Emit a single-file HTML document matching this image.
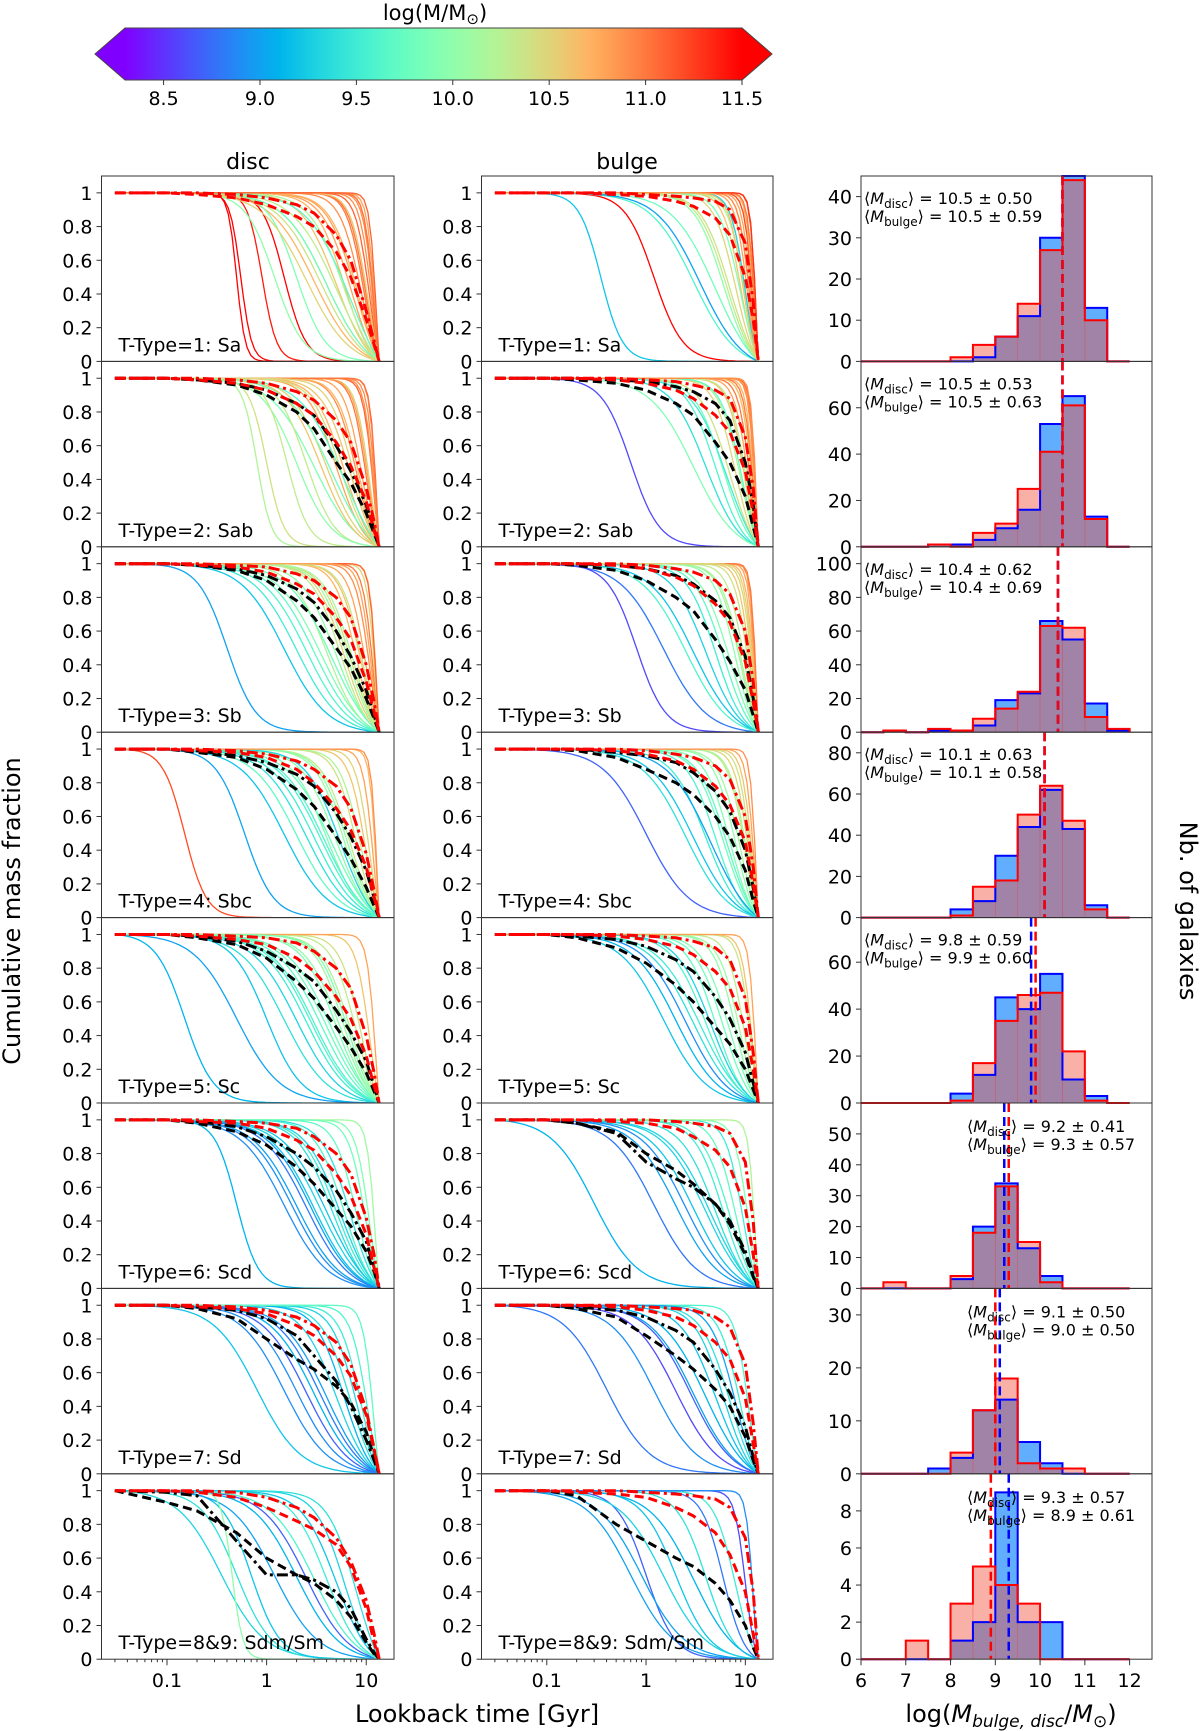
<!DOCTYPE html>
<html><head><meta charset="utf-8"><style>
html,body{margin:0;padding:0;background:#fff;}
svg{display:block;font-family:"DejaVu Sans","Liberation Sans",sans-serif;}
</style></head><body>
<svg id="fig" width="1200" height="1731" viewBox="0 0 1200 1731" xmlns="http://www.w3.org/2000/svg">
<defs><linearGradient id="cbgrad" x1="0" x2="1" y1="0" y2="0"></linearGradient></defs>
<g id="colorbar"></g>
<text x="435" y="20" font-size="21" text-anchor="middle">log(M/M<tspan font-size="15" baseline-shift="-4">⊙</tspan>)</text>
<text x="248" y="169" font-size="22" text-anchor="middle">disc</text>
<text x="627" y="169" font-size="22" text-anchor="middle">bulge</text>
<text x="477" y="1722" font-size="24" text-anchor="middle">Lookback time [Gyr]</text>
<text x="1011" y="1722" font-size="24" text-anchor="middle">log(<tspan font-style="italic">M</tspan><tspan font-style="italic" font-size="17" baseline-shift="-5">bulge, disc</tspan>/<tspan font-style="italic">M</tspan><tspan font-size="17" baseline-shift="-5">⊙</tspan>)</text>
<text transform="translate(20,911) rotate(-90)" font-size="24" text-anchor="middle">Cumulative mass fraction</text>
<text transform="translate(1180,911) rotate(90)" font-size="24" text-anchor="middle">Nb. of galaxies</text>
<g id="panels"></g>
</svg>
<script>
// ---------- data ----------
const typeLabels = ["T-Type=1: Sa","T-Type=2: Sab","T-Type=3: Sb","T-Type=4: Sbc","T-Type=5: Sc","T-Type=6: Scd","T-Type=7: Sd","T-Type=8&9: Sdm/Sm"];
const cbTicks = [8.5,9.0,9.5,10.0,10.5,11.0,11.5];
const timeTicks = [0.1,1,10];
const fracTicks = [0,0.2,0.4,0.6,0.8,1];
const fracTickLabels = ["0","0.2","0.4","0.6","0.8","1"];
const histXTicks = [6,7,8,9,10,11,12];
const binEdges = [6,6.5,7,7.5,8,8.5,9,9.5,10,10.5,11,11.5,12];
const histYMax = [45,80,110,90,79,60,35,10];
const histYTicks = [[0,10,20,30,40],[0,20,40,60],[0,20,40,60,80,100],[0,20,40,60,80],[0,20,40,60],[0,10,20,30,40,50],[0,10,20,30],[0,2,4,6,8]];
const histDisc = [
 [0,0,0,0,0,1,6,11,30,45,13,0],
 [0,0,0,1,1,3,8,16,53,65,13,0],
 [0,1,0,1,1,4,19,23,66,55,17,1],
 [0,0,0,0,4,8,30,44,62,43,6,0],
 [0,0,0,0,4,12,45,40,55,10,3,0],
 [0,0,0,0,3,20,34,13,4,0,0,0],
 [0,0,0,1,3,12,14,6,2,0,0,0],
 [0,0,0,0,1,2,9,2,2,0,0,0]];
const histBulge = [
 [0,0,0,0,1,4,6,14,27,44,10,0],
 [0,0,0,1,0,6,10,25,41,61,12,0],
 [0,1,0,2,1,8,14,24,63,62,9,2],
 [0,0,0,0,1,15,18,50,64,47,4,0],
 [0,0,0,0,1,17,35,46,47,22,1,0],
 [0,2,0,0,4,18,33,15,2,0,0,0],
 [0,0,0,0,4,12,18,2,1,1,0,0],
 [0,0,1,0,3,5,4,3,0,0,0,0]];
const discMean = [10.5,10.5,10.4,10.1,9.8,9.2,9.1,9.3];
const discStd = ["0.50","0.53","0.62","0.63","0.59","0.41","0.50","0.57"];
const bulgeMean = [10.5,10.5,10.4,10.1,9.9,9.3,9.0,8.9];
const bulgeStd = ["0.59","0.63","0.69","0.58","0.60","0.57","0.50","0.61"];

// individual galaxy curves: mass, half-mass lookback time, steepness
const discMass = [
 [11.5,11.5,11.4,11.5,10.8,10.9,11.0,10.7,10.6,11.1,10.5,10.9,10.8,11.0,10.7,9.9,10.0,9.8,10.2,10.4,10.6,10.9,11.2,10.8,10.7,11.0,10.3,9.7,10.5,11.1],
 [10.8,10.5,10.9,11.0,10.7,10.2,10.4,9.9,10.6,11.1,10.8,10.3,9.8,10.5,10.9,10.6,11.2,10.0,10.7,10.4,9.7,10.8,10.9,11.0,10.5,10.3],
 [10.5,10.7,10.2,9.9,10.4,10.8,9.6,9.0,9.2,10.0,10.6,11.0,10.3,9.8,10.9,10.1,10.5,9.7,10.7,11.1,10.4,10.2,9.5,10.8],
 [10.0,9.6,10.3,9.4,10.6,9.8,10.1,9.2,10.8,9.5,10.4,9.9,10.2,9.0,10.7,9.7,10.5,11.2,9.3,10.0,9.6,10.9],
 [9.8,9.5,10.0,9.3,10.2,9.6,9.9,9.1,10.4,9.7,10.1,9.4,10.6,9.8,9.2,10.3,9.6,10.8,9.0,9.9],
 [9.2,9.0,9.4,8.9,9.6,9.3,9.1,9.5,8.8,9.7,9.2,9.9,9.0,9.4,10.1,9.3,8.9,9.8],
 [9.1,8.9,9.3,8.7,9.4,9.0,9.2,9.5,8.8,9.6,9.1,9.3,8.9,9.7],
 [9.3,9.4,9.2,9.1,9.5,8.7,9.3,9.6,9.0,10.0,9.4,9.2]];
const discT50 = [
 [0.5,0.55,0.9,1.5,8,9,10,6,5,11,4,12,7,9.5,3,2,1.2,4,6,3.5,10.5,11.5,12,12.5,8.5,12,5,7,2.5,12.8],
 [5,4,8,10,6,0.8,1.0,3,7,12,9,2.5,4.5,11,12.5,3.5,13,2,8.5,5.5,6,10.5,12,12.8,7.5,1.6],
 [6,8,4,3.5,7,10,2.5,0.4,1.5,5,9,12,5.5,4.5,11,6.5,12.5,3,13,12.8,9.5,7.5,2,11.5],
 [5,3.5,7,2.5,10,4.5,6,1.5,12,3,8,4,9,0.6,12.8,2,11,0.15,5.5,6.5,3.8,13],
 [4,2.5,5.5,2,7,3,5,0.15,9,3.5,6,1.5,11,4.5,1.0,8,2.8,12.5,0.5,6.5],
 [3,2,4.5,1.5,6,3.5,0.5,5,2.5,8,4,11,2.8,7,12.5,5.5,1.8,10],
 [3,1.5,5,2.5,7,4,0.8,9,3.5,10.5,6,8,2,12],
 [0.35,0.5,0.7,2,4,2.5,6,3,1.2,0.45,8,5]];
const discK = [
 [10,8,6,4,3,4,5,3,2.5,6,2,8,3,5,2,3,3,2,2.5,2,5,7,9,10,3,9,2,2,2,12],
 [3,2.5,4,6,3,6,5,2,3,8,5,3,2,6,10,2.5,12,2.5,4,3,2,6,9,12,3.5,4],
 [3,4,2.5,2,3,5,2,3,2,2.5,4,8,3,2,6,3,10,2,12,12,4,3,2,7],
 [2.5,2,3,2,5,2,3,2,8,2,4,2.5,4,3,12,2,6,4,2.5,3,2,14],
 [2,2,2.5,2,3,2,2.5,3,4,2,3,2,6,2,2.5,3.5,2,10,2,3],
 [2,2,2.5,2,3,2,4,2.5,2,4,2,6,2,3,10,2.5,2,5],
 [2,2,2.5,2,3,2,2,4,2,5,3,3.5,2,8],
 [2,2.5,3,2,2.5,2,3,2,2,8,3,2.5]];
const bulgeMass = [
 [10.8,10.9,11.0,10.7,11.1,10.6,10.5,10.9,11.2,10.8,10.4,10.0,9.8,9.9,10.2,9.2,9.3,11.5,9.6,10.7,10.8,11.0,10.9,9.0,10.6,10.3,11.3,10.8],
 [10.8,10.9,10.6,11.0,10.5,9.8,9.6,9.4,8.6,10.2,10.7,11.1,9.9,10.4,9.5,10.8,10.9,11.0,9.7,10.3,10.6,10.9],
 [10.5,10.8,9.5,9.2,8.8,10.0,10.3,10.6,9.7,9.3,10.9,10.1,9.9,10.4,10.7,11.0,9.6,8.6,10.2,10.5],
 [10.0,9.5,9.8,10.3,9.2,8.7,10.5,10.8,9.9,9.6,10.1,9.4,10.6,9.0,10.2,9.7,10.4,10.9],
 [9.8,9.4,9.1,10.0,9.6,9.9,9.2,10.3,9.5,10.6,9.7,8.9,10.1,10.4,9.3,10.8],
 [9.3,9.0,9.5,8.8,9.7,9.2,9.4,9.1,9.6,8.9,9.9,9.3,9.5,10.2],
 [9.0,8.8,9.2,8.6,9.4,9.1,8.9,9.5,9.3,8.7,9.6,9.0],
 [9.0,8.7,9.2,9.4,8.8,9.3,8.6,9.1,9.5,9.0,8.9]];
const bulgeT50 = [
 [12,12.5,11,10,12.8,9,8,13,12,11.5,7,6,5,9,10,0.35,10,1.2,3,12,13,12.5,11,3.5,9.5,6.5,13,10.5],
 [12,12.8,10,11.5,8,6,5,4,0.7,9,12.5,13,3,7,6.5,11,13.2,12.2,9.5,10.5,12,12.9],
 [12,12.8,5,3,1.5,8,10,11.5,6,4,13,9,7,11,12.5,13.2,2.5,0.8,9.5,12.2],
 [8,4,6,10,3,1.0,11,12.5,7,5,9,2.5,12,4.5,10.5,6.5,11.5,13],
 [6,3,2,8,4,7,1.5,10,3.5,12,5,2.5,9,11.5,4.5,13],
 [4,2,6,1.2,8,3,5,0.3,7,2.5,11,4.5,9.5,12.8],
 [3,0.4,5,2,7,4,1.2,9,6,2.8,11,8],
 [0.7,1.0,2,4,6,1.5,10,3,8,0.9,12]];
const bulgeK = [
 [10,12,8,6,15,5,4,15,10,9,3,3,2,4,5,4,6,3,2,12,15,12,8,2,6,3,15,7],
 [8,12,5,7,4,3,3,2.5,3,4,10,14,2,3,2.5,6,15,9,4,5,8,13],
 [8,12,3,2,2,4,5,7,3,2.5,14,4,3,6,10,15,2,3,4,9],
 [4,2.5,3,5,2,2,6,10,3.5,3,4,2,8,2,5,3,7,14],
 [3,2,2,4,2.5,3,2,5,2,8,3,2,4,7,2.5,12],
 [2,2,3,2,4,2,2.5,2,3,2,6,2,5,12],
 [2,2,2.5,2,3,2,2,4,3,2,6,3.5],
 [2,3,2.5,3,4,2,8,2,4,2,12]];

// mean curves sampled at meanT
const meanT = [0.03,0.1,0.2,0.5,1,2,3,5,7,10,12,13.5];
const discRedDashDot = [
 [1,1,1,0.99,0.97,0.93,0.88,0.75,0.6,0.3,0.12,0],
 [1,1,1,0.99,0.97,0.92,0.87,0.75,0.62,0.35,0.15,0],
 [1,1,1,0.99,0.98,0.94,0.9,0.8,0.68,0.4,0.18,0],
 [1,1,1,0.99,0.97,0.93,0.88,0.78,0.65,0.38,0.16,0],
 [1,1,1,0.99,0.98,0.95,0.9,0.8,0.68,0.4,0.18,0],
 [1,1,1,0.99,0.98,0.95,0.9,0.8,0.68,0.42,0.2,0],
 [1,1,1,0.99,0.97,0.93,0.88,0.78,0.65,0.38,0.15,0],
 [1,1,1,0.99,0.96,0.9,0.84,0.72,0.58,0.35,0.15,0]];
const discRedDashed = [
 [1,1,0.99,0.97,0.93,0.86,0.8,0.65,0.5,0.25,0.1,0],
 [1,1,0.99,0.97,0.93,0.85,0.78,0.62,0.48,0.27,0.1,0],
 [1,1,0.99,0.98,0.95,0.88,0.82,0.68,0.55,0.3,0.12,0],
 [1,1,0.99,0.98,0.95,0.88,0.8,0.65,0.52,0.3,0.12,0],
 [1,1,0.99,0.97,0.94,0.86,0.78,0.63,0.5,0.28,0.1,0],
 [1,1,0.99,0.98,0.95,0.88,0.82,0.68,0.55,0.32,0.12,0],
 [1,1,0.99,0.98,0.95,0.88,0.82,0.7,0.58,0.35,0.14,0],
 [1,1,0.99,0.96,0.9,0.82,0.77,0.68,0.55,0.3,0.1,0]];
const discBlackDashDot = [
 null,
 [1,1,0.99,0.97,0.93,0.85,0.78,0.6,0.45,0.25,0.1,0],
 [1,1,0.99,0.97,0.93,0.85,0.77,0.6,0.45,0.25,0.1,0],
 [1,1,0.99,0.96,0.92,0.85,0.78,0.62,0.48,0.28,0.12,0],
 [1,1,0.99,0.96,0.9,0.8,0.72,0.55,0.42,0.25,0.1,0],
 [1,1,0.99,0.96,0.9,0.8,0.72,0.58,0.45,0.28,0.12,0],
 [1,1,0.99,0.97,0.92,0.82,0.7,0.55,0.4,0.2,0.08,0],
 [1,0.99,0.97,0.7,0.5,0.5,0.47,0.4,0.3,0.12,0.04,0]];
const discBlackDashed = [
 null,
 [1,1,0.99,0.96,0.9,0.8,0.7,0.5,0.38,0.2,0.08,0],
 [1,1,0.99,0.96,0.9,0.78,0.68,0.5,0.38,0.2,0.08,0],
 [1,1,0.98,0.95,0.88,0.76,0.66,0.48,0.35,0.18,0.07,0],
 [1,1,0.98,0.94,0.86,0.72,0.62,0.45,0.33,0.18,0.07,0],
 [1,1,0.98,0.93,0.85,0.72,0.62,0.47,0.37,0.22,0.1,0],
 [1,1,0.98,0.92,0.8,0.68,0.62,0.52,0.42,0.25,0.1,0],
 [1,0.93,0.88,0.75,0.6,0.5,0.45,0.35,0.25,0.1,0.03,0]];
const bulgeRedDashDot = [
 [1,1,1,1,0.99,0.98,0.97,0.95,0.9,0.7,0.35,0],
 [1,1,1,1,0.99,0.98,0.96,0.93,0.88,0.65,0.35,0],
 [1,1,1,1,0.99,0.97,0.95,0.9,0.82,0.6,0.3,0],
 [1,1,1,1,0.99,0.97,0.95,0.9,0.82,0.6,0.3,0],
 [1,1,1,1,0.99,0.98,0.96,0.92,0.85,0.62,0.3,0],
 [1,1,1,1,1,0.99,0.98,0.96,0.92,0.75,0.4,0],
 [1,1,1,1,0.99,0.98,0.97,0.93,0.87,0.65,0.3,0],
 [1,1,1,1,0.99,0.98,0.97,0.95,0.9,0.72,0.4,0]];
const bulgeRedDashed = [
 [1,1,1,0.99,0.98,0.95,0.92,0.85,0.75,0.5,0.25,0],
 [1,1,1,0.99,0.97,0.93,0.88,0.78,0.68,0.45,0.2,0],
 [1,1,1,0.99,0.97,0.92,0.87,0.76,0.65,0.42,0.18,0],
 [1,1,1,0.99,0.97,0.93,0.88,0.78,0.67,0.45,0.2,0],
 [1,1,1,0.99,0.97,0.93,0.88,0.78,0.68,0.45,0.2,0],
 [1,1,1,0.99,0.98,0.95,0.9,0.82,0.72,0.48,0.2,0],
 [1,1,1,0.99,0.97,0.93,0.88,0.78,0.68,0.45,0.18,0],
 [1,1,0.99,0.98,0.96,0.9,0.85,0.75,0.62,0.4,0.15,0]];
const bulgeBlackDashDot = [
 null,
 [1,1,1,0.99,0.98,0.95,0.92,0.85,0.75,0.5,0.25,0],
 [1,1,1,0.99,0.97,0.93,0.88,0.78,0.68,0.45,0.2,0],
 [1,1,1,0.98,0.96,0.92,0.86,0.75,0.63,0.4,0.18,0],
 [1,1,0.99,0.97,0.93,0.85,0.78,0.63,0.5,0.3,0.12,0],
 [1,1,0.98,0.92,0.75,0.65,0.6,0.5,0.4,0.22,0.08,0],
 [1,1,0.99,0.97,0.93,0.85,0.78,0.62,0.48,0.28,0.1,0],
 null];
const bulgeBlackDashed = [
 null,
 [1,1,0.99,0.97,0.93,0.85,0.78,0.62,0.5,0.3,0.12,0],
 [1,1,0.99,0.96,0.9,0.8,0.72,0.55,0.42,0.25,0.1,0],
 [1,1,0.99,0.95,0.88,0.8,0.73,0.6,0.48,0.28,0.1,0],
 [1,1,0.98,0.92,0.83,0.7,0.6,0.45,0.35,0.2,0.08,0],
 [1,1,0.98,0.93,0.8,0.7,0.62,0.5,0.38,0.2,0.07,0],
 [1,1,0.98,0.93,0.82,0.7,0.62,0.5,0.4,0.22,0.08,0],
 [1,1,0.97,0.8,0.7,0.6,0.55,0.45,0.35,0.2,0.07,0]];

// ---------- layout & helpers ----------
const NS = "http://www.w3.org/2000/svg";
const ROW0 = 176, ROWH = 185.4;
const COLS = [[101.5,394],[481.5,773],[861,1152]];
const TMIN = 0.022, TMAX = 19, FMAX = 1.1, VMIN = 8.3, VMAX = 11.5, HX0 = 6, HX1 = 12.5;
const CB_L = 125, CB_R = 742, CB_T = 28, CB_B = 80;
function el(tag, attrs, parent){ const e=document.createElementNS(NS,tag); for(const k in attrs) e.setAttribute(k,attrs[k]); if(parent) parent.appendChild(e); return e; }
function rainbow(v){ let x=(v-VMIN)/(VMAX-VMIN); x=Math.max(0,Math.min(1,x));
  const r=Math.min(1,Math.abs(2*x-0.5)), g=Math.sin(Math.PI*x), b=Math.cos(Math.PI*x/2);
  return `rgb(${Math.round(r*255)},${Math.round(g*255)},${Math.round(b*255)})`; }
function xT(col,t){ const [L,R]=COLS[col]; return L+(Math.log10(t)-Math.log10(TMIN))/(Math.log10(TMAX)-Math.log10(TMIN))*(R-L); }
function rowTop(i){ return ROW0+i*ROWH; }
function yF(i,f){ const b=rowTop(i)+ROWH; return b-f/FMAX*ROWH; }
function xH(v){ const [L,R]=COLS[2]; return L+(v-HX0)/(HX1-HX0)*(R-L); }
function yH(i,n){ const b=rowTop(i)+ROWH; return b-Math.min(n,histYMax[i])/histYMax[i]*ROWH; }
function xCB(v){ return CB_L+(v-VMIN)/(VMAX-VMIN)*(CB_R-CB_L); }

// ---------- colorbar ----------
const grad=document.getElementById('cbgrad');
for(let s=0;s<=20;s++){ el('stop',{offset:(s/20).toString(),'stop-color':rainbow(VMIN+s/20*(VMAX-VMIN))},grad); }
const cb=document.getElementById('colorbar');
const cbLeft=el('polygon',{points:`${CB_L},${CB_T} 95,${(CB_T+CB_B)/2} ${CB_L},${CB_B}`,fill:rainbow(VMIN)},cb);


const cbRect=el('rect',{x:CB_L,y:CB_T,width:CB_R-CB_L,height:CB_B-CB_T,fill:'url(#cbgrad)'},cb);


const cbRight=el('polygon',{points:`${CB_R},${CB_T} 772,${(CB_T+CB_B)/2} ${CB_R},${CB_B}`,fill:rainbow(VMAX)},cb);


el('polygon',{points:`${CB_L},${CB_T} ${CB_R},${CB_T} 772,${(CB_T+CB_B)/2} ${CB_R},${CB_B} ${CB_L},${CB_B} 95,${(CB_T+CB_B)/2}`,fill:'none',stroke:'#444','stroke-width':1},cb);
cbTicks.forEach(v=>{ const x=xCB(v);
  el('line',{x1:x,x2:x,y1:CB_B,y2:CB_B+5,stroke:'#333','stroke-width':1},cb);
  const t=el('text',{x:x,y:CB_B+25,'font-size':19,'text-anchor':'middle'},cb); t.textContent=v.toFixed(1);
  
  
});

// ---------- panels ----------
const root=document.getElementById('panels');
function curvePath(col,i,m,t50,k){
  const f=t=>1/(1+Math.pow(t/t50,k));
  const f0=f(0.03), f1=f(13.5);
  let d='';
  for(let s=0;s<=70;s++){ const lt=Math.log10(0.03)+s/70*(Math.log10(13.5)-Math.log10(0.03)); const t=Math.pow(10,lt);
    const g=(f(t)-f1)/(f0-f1); d+=(s?'L':'M')+xT(col,t).toFixed(1)+','+yF(i,g).toFixed(1); }
  return d;
}
function meanPath(col,i,arr){ let d=''; meanT.forEach((t,j)=>{ d+=(j?'L':'M')+xT(col,t).toFixed(1)+','+yF(i,arr[j]).toFixed(1); }); return d; }

for(let i=0;i<8;i++){
  const top=rowTop(i), bot=top+ROWH;
  [0,1].forEach(col=>{
    const [L,R]=COLS[col];
    const g=el('g',{},root);
    
    
    const clipId=`clip${col}_${i}`;
    const cp=el('clipPath',{id:clipId},g); el('rect',{x:L,y:top,width:R-L,height:ROWH},cp);
    const lines=el('g',{'clip-path':`url(#${clipId})`},g);
    const M=col===0?discMass[i]:bulgeMass[i], T=col===0?discT50[i]:bulgeT50[i], K=col===0?discK[i]:bulgeK[i];
    M.forEach((m,j)=>{
      const p=el('path',{d:curvePath(col,i,m,T[j],K[j]),fill:'none',stroke:rainbow(m),'stroke-width':1.3},lines);
      
      
    });
    const means = col===0 ? [[discBlackDashed[i],'#000','9,5'],[discBlackDashDot[i],'#000','11,4,3,4'],[discRedDashed[i],'#f00','9,5'],[discRedDashDot[i],'#f00','11,4,3,4']]
                          : [[bulgeBlackDashed[i],'#000','9,5'],[bulgeBlackDashDot[i],'#000','11,4,3,4'],[bulgeRedDashed[i],'#f00','9,5'],[bulgeRedDashDot[i],'#f00','11,4,3,4']];
    means.forEach(([arr,c,da])=>{ if(!arr) return;
      const p=el('path',{d:meanPath(col,i,arr),fill:'none',stroke:c,'stroke-width':3,'stroke-dasharray':da},lines);
      
      
    });
    el('rect',{x:L,y:top,width:R-L,height:ROWH,fill:'none',stroke:'#333','stroke-width':1},g);
    fracTicks.forEach((f,j)=>{ const y=yF(i,f);
      el('line',{x1:L-5,x2:L,y1:y,y2:y,stroke:'#333'},g);
      const t=el('text',{x:L-9,y:y+7,'font-size':19,'text-anchor':'end'},g); t.textContent=fracTickLabels[j];
      
      
    });
    const lab=el('text',{x:L+17,y:bot-10,'font-size':19},g); lab.textContent=typeLabels[i];
    
    
    if(i===7){
      for(let dec=-2;dec<=1;dec++) for(let m=1;m<=9;m++){ const t=m*Math.pow(10,dec); if(t<TMIN||t>TMAX) continue;
        const x=xT(col,t); el('line',{x1:x,x2:x,y1:bot,y2:bot+(m===1?6:3),stroke:'#333'},g); }
      timeTicks.forEach(t=>{ const tx=el('text',{x:xT(col,t),y:bot+28,'font-size':19,'text-anchor':'middle'},g); tx.textContent=String(t);
        
        
      });
    }
  });
  // histogram
  const [L,R]=COLS[2];
  const g=el('g',{},root);
  
  
  const drawFill=(arr,fill,op)=>{ arr.forEach((n,j)=>{ if(!n) return;
    const r=el('rect',{x:xH(binEdges[j]),y:yH(i,n),width:xH(binEdges[j+1])-xH(binEdges[j]),height:(top+ROWH)-yH(i,n),fill:fill,'fill-opacity':op,stroke:fill,'stroke-opacity':0.4,'stroke-width':0.6},g);
    
    
  }); };
  const drawStep=(arr,c)=>{ let d=`M${xH(binEdges[0])},${yH(i,0)}`;
    arr.forEach((n,j)=>{ d+=`L${xH(binEdges[j])},${yH(i,n)}L${xH(binEdges[j+1])},${yH(i,n)}`; });
    d+=`L${xH(binEdges[binEdges.length-1])},${yH(i,0)}`;
    const p=el('path',{d:d,fill:'none',stroke:c,'stroke-width':2},g);
    
    
  };
  drawFill(histDisc[i],'#1e8cff',0.7);
  drawFill(histBulge[i],'#f0503c',0.45);
  drawStep(histDisc[i],'#0000ff');
  drawStep(histBulge[i],'#ff0000');
  const bl=el('line',{x1:xH(discMean[i]),x2:xH(discMean[i]),y1:top,y2:top+ROWH,stroke:'#0000ff','stroke-width':2.5,'stroke-dasharray':'9,5'},g);
  
  
  const rl=el('line',{x1:xH(bulgeMean[i]),x2:xH(bulgeMean[i]),y1:top,y2:top+ROWH,stroke:'#ff0000','stroke-width':2.5,'stroke-dasharray':'9,5'},g);
  
  
  el('rect',{x:L,y:top,width:R-L,height:ROWH,fill:'none',stroke:'#333','stroke-width':1},g);
  histYTicks[i].forEach(v=>{ const y=yH(i,v);
    el('line',{x1:L-5,x2:L,y1:y,y2:y,stroke:'#333'},g);
    const t=el('text',{x:L-9,y:y+7,'font-size':19,'text-anchor':'end'},g); t.textContent=String(v);
    
    
  });
  const tx0 = i<5 ? L+3 : L+106;
  const ty0 = i<5 ? top+28 : top+29;
  [['disc',discMean[i],discStd[i]],['bulge',bulgeMean[i],bulgeStd[i]]].forEach(([nm,mu,sd],j)=>{
    const t=el('text',{x:tx0,y:ty0+j*18,'font-size':16},g);
    t.innerHTML=`⟨<tspan font-style="italic">M</tspan><tspan font-size="12" dy="4">${nm}</tspan><tspan dy="-4">⟩ = ${mu.toFixed(1)} ± ${sd}</tspan>`;
    
    
  });
  if(i===7){
    histXTicks.forEach(v=>{ const x=xH(v);
      el('line',{x1:x,x2:x,y1:top+ROWH,y2:top+ROWH+6,stroke:'#333'},g);
      const t=el('text',{x:x,y:top+ROWH+28,'font-size':19,'text-anchor':'middle'},g); t.textContent=String(v);
      
      
    });
  }
}
</script>
</body></html>
